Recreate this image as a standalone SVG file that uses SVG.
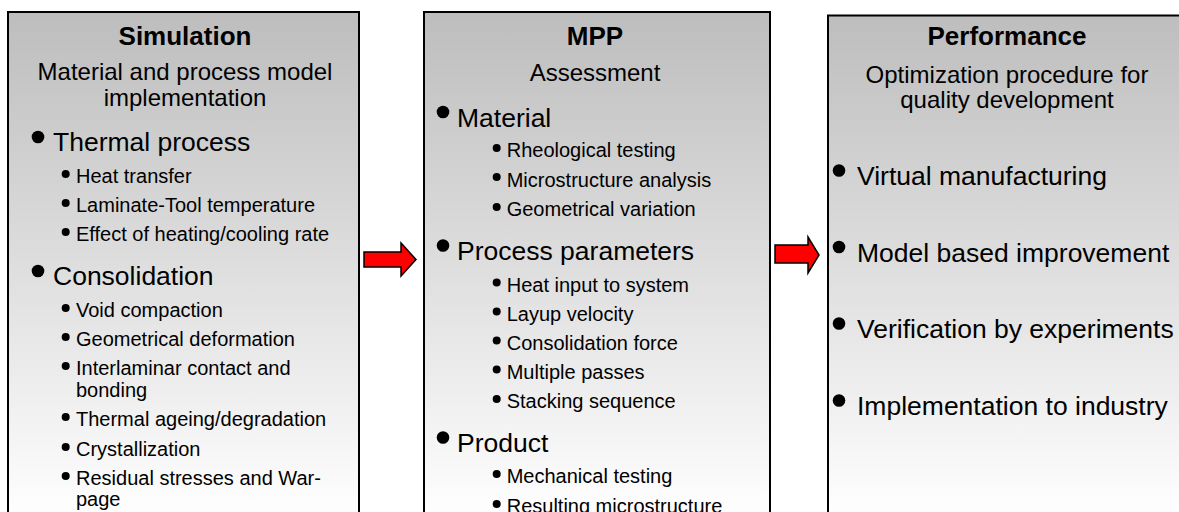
<svg xmlns="http://www.w3.org/2000/svg" width="1179" height="512" viewBox="0 0 1179 512">
<style>
text{font-family:"Liberation Sans",Arial,sans-serif;fill:#000}
.t{font-size:26px;font-weight:bold;text-anchor:middle}
.s{font-size:24px;text-anchor:middle}
.m{font-size:26.5px}
.i{font-size:20px}
.box{fill:url(#g);stroke:#000;stroke-width:2}
.arr{fill:#ff0000;stroke:#000;stroke-width:1.5;stroke-linejoin:miter}
</style>
<defs>
<linearGradient id="g" gradientUnits="userSpaceOnUse" x1="0" y1="12" x2="0" y2="520">
<stop offset="0" stop-color="#bdbdbd"/>
<stop offset="1" stop-color="#ffffff"/>
</linearGradient>
<circle id="bb" r="6.3" fill="#000"/>
<circle id="sb" r="4" fill="#000"/>
</defs>
<rect width="1179" height="512" fill="#fff"/>

<g id="simulation">
<rect class="box" x="8" y="12" width="351" height="530"/>
<text class="t" x="185" y="45">Simulation</text>
<text class="s" x="185" y="80">Material and process model</text>
<text class="s" x="185" y="106">implementation</text>
<use href="#bb" x="38" y="137"/>
<text class="m" x="53" y="151">Thermal process</text>
<use href="#sb" x="65.7" y="174"/><text class="i" x="76" y="183">Heat transfer</text>
<use href="#sb" x="65.7" y="203"/><text class="i" x="76" y="212">Laminate-Tool temperature</text>
<use href="#sb" x="65.7" y="232"/><text class="i" x="76" y="241">Effect of heating/cooling rate</text>
<use href="#bb" x="38" y="271"/>
<text class="m" x="53" y="285">Consolidation</text>
<use href="#sb" x="65.7" y="308"/><text class="i" x="76" y="317">Void compaction</text>
<use href="#sb" x="65.7" y="337"/><text class="i" x="76" y="346">Geometrical deformation</text>
<use href="#sb" x="65.7" y="366"/><text class="i" x="76" y="375">Interlaminar contact and</text>
<text class="i" x="76" y="397">bonding</text>
<use href="#sb" x="65.7" y="417"/><text class="i" x="76" y="426">Thermal ageing/degradation</text>
<use href="#sb" x="65.7" y="447"/><text class="i" x="76" y="456">Crystallization</text>
<use href="#sb" x="65.7" y="476"/><text class="i" x="76" y="485">Residual stresses and War-</text>
<text class="i" x="76" y="506">page</text>
</g>

<g id="mpp">
<rect class="box" x="424" y="12" width="346" height="530"/>
<text class="t" x="595" y="45">MPP</text>
<text class="s" x="595" y="81">Assessment</text>
<use href="#bb" x="443" y="112"/>
<text class="m" x="457" y="126.5">Material</text>
<use href="#sb" x="496.7" y="148"/><text class="i" x="506.7" y="157">Rheological testing</text>
<use href="#sb" x="496.7" y="177"/><text class="i" x="506.7" y="186.5">Microstructure analysis</text>
<use href="#sb" x="496.7" y="207"/><text class="i" x="506.7" y="216">Geometrical variation</text>
<use href="#bb" x="443" y="245.5"/>
<text class="m" x="457" y="260">Process parameters</text>
<use href="#sb" x="496.7" y="282.5"/><text class="i" x="506.7" y="291.5">Heat input to system</text>
<use href="#sb" x="496.7" y="311.5"/><text class="i" x="506.7" y="320.5">Layup velocity</text>
<use href="#sb" x="496.7" y="340.5"/><text class="i" x="506.7" y="349.5">Consolidation force</text>
<use href="#sb" x="496.7" y="369.5"/><text class="i" x="506.7" y="378.5">Multiple passes</text>
<use href="#sb" x="496.7" y="399"/><text class="i" x="506.7" y="408">Stacking sequence</text>
<use href="#bb" x="443" y="437.5"/>
<text class="m" x="457" y="452">Product</text>
<use href="#sb" x="496.7" y="474"/><text class="i" x="506.7" y="483">Mechanical testing</text>
<use href="#sb" x="496.7" y="504"/><text class="i" x="506.7" y="513">Resulting microstructure</text>
</g>

<g id="performance">
<rect class="box" x="828" y="15.5" width="380" height="530"/>
<text class="t" x="1007" y="45">Performance</text>
<text class="s" x="1007" y="83">Optimization procedure for</text>
<text class="s" x="1007" y="108">quality development</text>
<use href="#bb" x="839" y="170.5"/>
<text class="m" x="857" y="185">Virtual manufacturing</text>
<use href="#bb" x="839" y="247"/>
<text class="m" x="857" y="261.5">Model based improvement</text>
<use href="#bb" x="839" y="323.5"/>
<text class="m" x="857" y="338">Verification by experiments</text>
<use href="#bb" x="839" y="400.5"/>
<text class="m" x="857" y="415">Implementation to industry</text>
</g>

<g id="connectors">
<polygon class="arr" points="364,252 401,252 401,243 416,259.5 401,276 401,267 364,267"/>
<polygon class="arr" points="775,245 808,245 808,237 819,255 808,273 808,263 775,263"/>
</g>
</svg>
